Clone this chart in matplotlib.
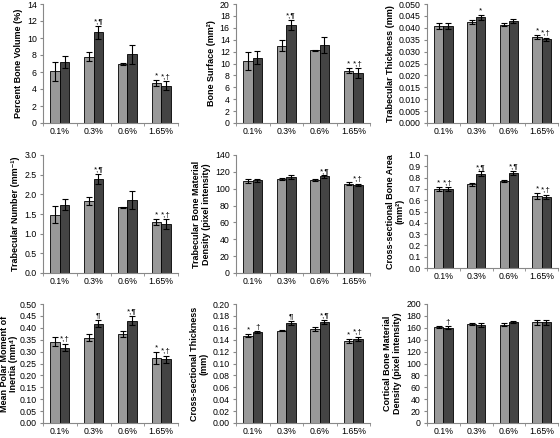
import numpy as np
import matplotlib
matplotlib.use('Agg')
import matplotlib.pyplot as plt

plt.rcParams['font.family'] = ['Liberation Sans', 'DejaVu Sans']

groups = ['0.1%', '0.3%', '0.6%', '1.65%']

bv_light = [6.1, 7.8, 6.95, 4.7]
bv_light_err = [1.1, 0.5, 0.1, 0.35]
bv_dark = [7.2, 10.65, 8.1, 4.4]
bv_dark_err = [0.7, 0.8, 1.1, 0.5]

bs_light = [10.4, 13.0, 12.2, 8.8]
bs_light_err = [1.5, 0.9, 0.1, 0.4]
bs_dark = [11.0, 16.5, 13.1, 8.4]
bs_dark_err = [1.1, 0.8, 1.4, 0.8]

tt_light = [0.0407, 0.0424, 0.0413, 0.0362]
tt_light_err = [0.0012, 0.0008, 0.0007, 0.0007]
tt_dark = [0.0408, 0.0444, 0.0429, 0.0351]
tt_dark_err = [0.0012, 0.0010, 0.0007, 0.0006]

tn_light = [1.48, 1.83, 1.67, 1.29]
tn_light_err = [0.22, 0.10, 0.02, 0.08]
tn_dark = [1.74, 2.39, 1.85, 1.25]
tn_dark_err = [0.14, 0.13, 0.23, 0.12]

tbmd_light = [109, 111.5, 110.5, 106]
tbmd_light_err = [2, 1.5, 1.5, 1.5]
tbmd_dark = [110, 114, 114.5, 104.5]
tbmd_dark_err = [2, 2, 1.2, 1.5]

csa_light = [0.70, 0.74, 0.77, 0.635]
csa_light_err = [0.015, 0.01, 0.01, 0.025]
csa_dark = [0.70, 0.835, 0.84, 0.63]
csa_dark_err = [0.015, 0.02, 0.02, 0.02]

mpmi_light = [0.342, 0.358, 0.375, 0.273]
mpmi_light_err = [0.02, 0.015, 0.012, 0.025]
mpmi_dark = [0.317, 0.418, 0.430, 0.268]
mpmi_dark_err = [0.015, 0.015, 0.02, 0.015]

cst_light = [0.147, 0.155, 0.158, 0.138]
cst_light_err = [0.003, 0.001, 0.003, 0.003]
cst_dark = [0.153, 0.168, 0.170, 0.141]
cst_dark_err = [0.001, 0.004, 0.003, 0.004]

cbmd_light = [161.5, 166.5, 165, 169]
cbmd_light_err = [1.5, 1.5, 2.5, 3.5]
cbmd_dark = [160, 165, 169.5, 169]
cbmd_dark_err = [2.5, 3.5, 1.5, 4.5]

# label, ymax, step, decimals, light, light err, dark, dark err, light marks, dark marks
panels = [
    ('Percent Bone Volume (%)', 14, 2, 0, bv_light, bv_light_err, bv_dark, bv_dark_err,
     ['', '', '', '*'], ['', '*,¶', '', '*,†']),
    ('Bone Surface (mm²)', 20, 2, 0, bs_light, bs_light_err, bs_dark, bs_dark_err,
     ['', '', '', '*'], ['', '*,¶', '', '*,†']),
    ('Trabecular Thickness (mm)', 0.05, 0.005, 3, tt_light, tt_light_err, tt_dark, tt_dark_err,
     ['', '', '', '*'], ['', '*', '', '*,†']),
    ('Trabecular Number (mm⁻¹)', 3.0, 0.5, 1, tn_light, tn_light_err, tn_dark, tn_dark_err,
     ['', '', '', '*'], ['', '*,¶', '', '*,†']),
    ('Trabecular Bone Material\nDensity (pixel intensity)', 140, 20, 0, tbmd_light, tbmd_light_err,
     tbmd_dark, tbmd_dark_err, ['', '', '', ''], ['', '', '*,¶', '*,†']),
    ('Cross-sectional Bone Area\n(mm²)', 1.0, 0.1, 1, csa_light, csa_light_err, csa_dark, csa_dark_err,
     ['*', '', '', '*'], ['*,†', '*,¶', '*,¶', '*,†']),
    ('Mean Polar Moment of\nInertia (mm⁴)', 0.5, 0.05, 2, mpmi_light, mpmi_light_err, mpmi_dark,
     mpmi_dark_err, ['', '', '', '*'], ['*,†', '¶', '*,¶', '*,†']),
    ('Cross-sectional Thickness\n(mm)', 0.2, 0.02, 2, cst_light, cst_light_err, cst_dark, cst_dark_err,
     ['*', '', '', '*'], ['†', '¶', '*,¶', '*,†']),
    ('Cortical Bone Material\nDensity (pixel intensity)', 200, 20, 0, cbmd_light, cbmd_light_err,
     cbmd_dark, cbmd_dark_err, ['', '', '', ''], ['†', '', '', '']),
]

W, H = 560, 438
col_x = [(43, 178), (236, 370), (427, 558)]
row_y = [(4, 123), (155, 273), (304, 423)]

fig = plt.figure(figsize=(W / 100, H / 100), dpi=100)

x = np.arange(len(groups))
bw = 0.28
for i, (label, ymax, ystep, dec, lm, le, dm, de, lmarks, dmarks) in enumerate(panels):
    r, c = divmod(i, 3)
    x0, x1 = col_x[c]
    ytop, ybot = row_y[r]
    if i == 5:
        ybot = 268
    ax = fig.add_axes([x0 / W, (H - ybot) / H, (x1 - x0) / W, (ybot - ytop) / H])
    ekw = dict(elinewidth=0.8, capsize=2.2, capthick=0.8, ecolor='black')
    ax.bar(x - bw / 2, lm, bw, yerr=le, color='#999999', edgecolor='black', linewidth=0.6,
           error_kw=ekw)
    ax.bar(x + bw / 2, dm, bw, yerr=de, color='#444444', edgecolor='black', linewidth=0.6,
           error_kw=ekw)
    for j in range(len(groups)):
        if lmarks[j]:
            ax.text(x[j] - bw / 2, lm[j] + le[j] + ymax * 0.005, lmarks[j], ha='center',
                    va='bottom', fontsize=5.8)
        if dmarks[j]:
            ax.text(x[j] + bw / 2, dm[j] + de[j] + ymax * 0.005, dmarks[j], ha='center',
                    va='bottom', fontsize=5.8)
    ax.set_xlim(-0.5, 3.5)
    ax.set_ylim(0, ymax)
    ticks = np.arange(0, ymax + ystep / 2, ystep)
    ax.set_yticks(ticks)
    ax.set_yticklabels([f'{t:.{dec}f}' for t in ticks])
    ax.set_xticks(x)
    ax.set_xticklabels(groups)
    ax.set_xticks(np.arange(-0.5, 4, 1), minor=True)
    ax.tick_params(axis='x', which='major', length=0, labelsize=6.3, pad=3)
    ax.tick_params(axis='x', which='minor', length=2.5, color='#888888')
    ax.tick_params(axis='y', length=2.5, color='#888888', labelsize=6.3, pad=2)
    for s in ['top', 'right']:
        ax.spines[s].set_visible(False)
    for s in ['left', 'bottom']:
        ax.spines[s].set_color('#888888')
        ax.spines[s].set_linewidth(0.8)
    ax.set_ylabel(label, fontsize=6.5, fontweight='bold', labelpad=1 if i == 6 else 3,
                  linespacing=1.05)

fig.savefig('out.png', dpi=100)
